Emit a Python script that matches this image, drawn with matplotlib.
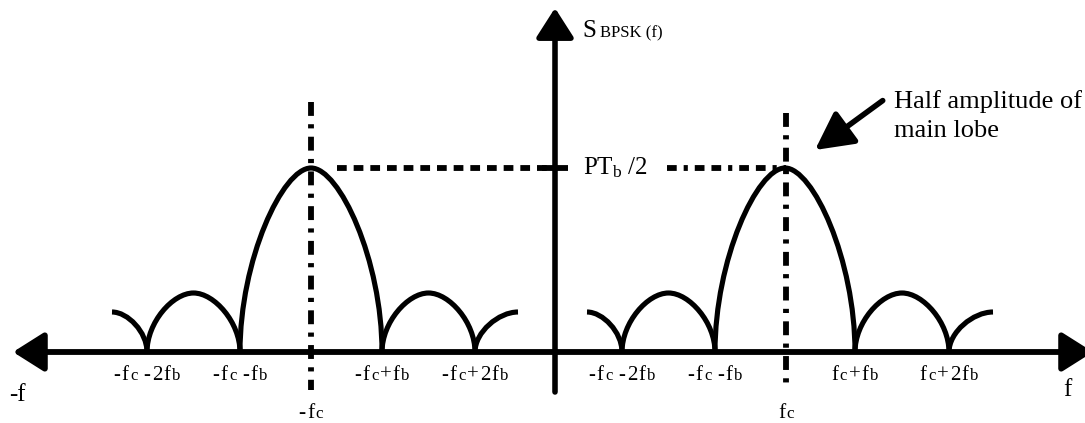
import re

import matplotlib
matplotlib.use("Agg")
import matplotlib.pyplot as plt
from matplotlib.path import Path
from matplotlib.patches import PathPatch
from matplotlib.offsetbox import TextArea, DrawingArea, HPacker, AnnotationBbox

plt.rcParams["font.family"] = ["Liberation Serif", "DejaVu Serif"]
plt.rcParams["mathtext.fontset"] = "custom"
plt.rcParams["mathtext.rm"] = "Liberation Serif"
plt.rcParams["mathtext.default"] = "regular"
plt.rcParams["lines.scale_dashes"] = False

# positions (origin where the two axes cross)
lobe_centers = [-244, 231]
nulls_neg = [-408, -315, -173, -80]
nulls_pos = [67, 160, 300, 394]
tails_neg = [-443, -37]
tails_pos = [32, 438]
main_height = 184
side_height = 59
tail_height = 40

labels_neg = ["-f$_c$ -2f$_b$", "-f$_c$ -f$_b$", "-f$_c$+f$_b$", "-f$_c$+2f$_b$"]
labels_pos = ["-f$_c$ -2f$_b$", "-f$_c$ -f$_b$", "f$_c$+f$_b$", "f$_c$+2f$_b$"]
center_labels = ["-f$_c$", "f$_c$"]
center_line_tops = [250, 239]

LW = 3.7


def arch(a, b, h, k, m):
    c = (a + b) / 2
    w = (b - a) / 2
    verts = [(a, 0), (a, k * h), (c - m * w, h), (c, h),
             (c + m * w, h), (b, k * h), (b, 0)]
    codes = [Path.MOVETO] + [Path.CURVE4] * 6
    return Path(verts, codes)


def tail(end, null, h, k=0.5, m=0.45):
    w = null - end
    verts = [(end, h), (end + m * w, h), (null, k * h), (null, 0)]
    return Path(verts, [Path.MOVETO] + [Path.CURVE4] * 3)


def draw_group(ax, nulls, tails):
    paths = [
        tail(tails[0], nulls[0], tail_height),
        arch(nulls[0], nulls[1], side_height, 0.5, 0.45),
        arch(nulls[1], nulls[2], main_height, 0.5, 0.4),
        arch(nulls[2], nulls[3], side_height, 0.5, 0.45),
        tail(tails[1], nulls[3], tail_height),
    ]
    for p in paths:
        ax.add_patch(PathPatch(p, fill=False, lw=LW, ec="black", capstyle="butt"))


def place_label(ax, x, y, label, size=15, sub=0.8, sep=1.0):
    # text with small subscripts sitting on the baseline, loosely spaced
    parts = re.split(r"\$_(\w)\$", label)
    boxes = []
    for i, part in enumerate(parts):
        s = size * sub if i % 2 else size
        for ch in part:
            if ch == " ":
                boxes.append(DrawingArea(size * 0.15, 1))
            else:
                boxes.append(TextArea(ch, textprops=dict(fontsize=s)))
    pack = HPacker(children=boxes, align="baseline", pad=0, sep=sep)
    ax.add_artist(AnnotationBbox(pack, (x, y), frameon=False, pad=0,
                                 box_alignment=(0.5, 0.5)))


fig = plt.figure(figsize=(10.85, 4.23), dpi=100)
ax = fig.add_axes([0, 0, 1, 1])
ax.set_xlim(-555, 530)
ax.set_ylim(-71, 352)
ax.axis("off")

# axes with arrow heads
ax.annotate("", xy=(-542, 0), xytext=(538, 0),
            arrowprops=dict(arrowstyle="<|-|>,head_length=1.9,head_width=1.2",
                            lw=4.2, color="black", shrinkA=0, shrinkB=0,
                            mutation_scale=10))
ax.annotate("", xy=(0, 344), xytext=(0, -40),
            arrowprops=dict(arrowstyle="-|>,head_length=1.8,head_width=1.15",
                            lw=4.0, color="black", shrinkA=0, shrinkB=0,
                            mutation_scale=10))

draw_group(ax, nulls_neg, tails_neg)
draw_group(ax, nulls_pos, tails_pos)

# dash-dot centre lines and the PTb/2 level
for x, top in zip(lobe_centers, center_line_tops):
    ax.plot([x, x], [top, -38], color="black", lw=4.2,
            dashes=(10, 6, 3, 6), dash_capstyle="butt")
ax.plot([lobe_centers[0] + 26, 0], [main_height, main_height], color="black",
        lw=4.2, dashes=(7, 5), dash_capstyle="butt")
ax.plot([112, lobe_centers[1]], [main_height, main_height], color="black",
        lw=4.2, dashes=(7, 5, 3, 5, 7, 5), dash_capstyle="butt")
ax.plot([-13, 13], [main_height, main_height], color="black", lw=4.2,
        solid_capstyle="butt")

for x, lab in zip(nulls_neg + nulls_pos, labels_neg + labels_pos):
    place_label(ax, x, -23, lab)
for x, lab in zip(lobe_centers, center_labels):
    place_label(ax, x, -61, lab, size=15.5)

ax.text(-538, -43, "-f", ha="center", va="center", fontsize=18)
ax.text(512, -38, "f", ha="center", va="center", fontsize=18)
ax.text(27, 315, "S", ha="left", va="baseline", fontsize=18)
ax.text(45, 315, "BPSK (f)", ha="left", va="baseline", fontsize=12)
ax.text(28, main_height, "PT$_b$ /2", ha="left", va="center", fontsize=18)

ax.annotate("Half amplitude of\nmain lobe", xy=(260, 202), xytext=(339, 215),
            ha="left", va="baseline", fontsize=19, linespacing=1.4,
            arrowprops=dict(arrowstyle="-|>,head_length=2.3,head_width=1.2",
                            lw=4.0, color="black", shrinkA=0, shrinkB=0,
                            mutation_scale=10, relpos=(-0.06, 0.8)))

fig.savefig("out.png", dpi=100)
